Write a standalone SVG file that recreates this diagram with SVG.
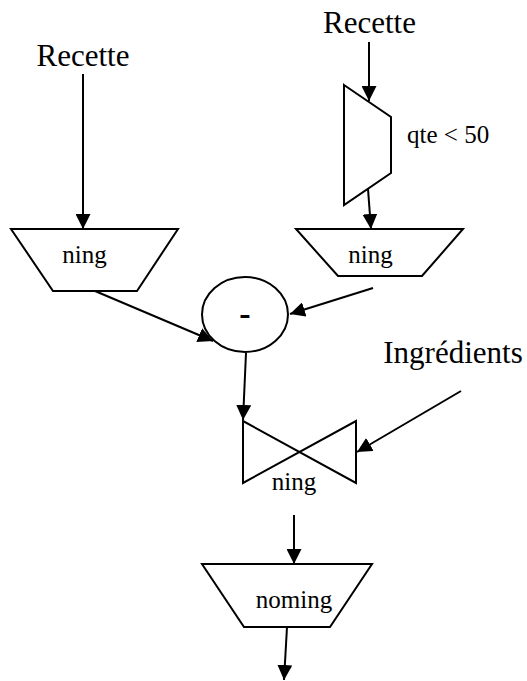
<svg xmlns="http://www.w3.org/2000/svg" width="527" height="681" viewBox="0 0 527 681">
  <style>
    .shape { fill: #fff; stroke: #000; stroke-width: 2; stroke-linejoin: miter; }
    .edge { fill: none; stroke: #000; stroke-width: 2; marker-end: url(#arrow); }
    .label { font-family: "Liberation Serif", "Times New Roman", serif; fill: #000; }
    .big { font-size: 31px; }
    .small { font-size: 25px; }
  </style>
  <defs>
    <marker id="arrow" markerUnits="userSpaceOnUse" markerWidth="15" markerHeight="15" refX="15" refY="7.5" orient="auto">
      <path d="M0,0 L15,7.5 L0,15 z" fill="#000"/>
    </marker>
  </defs>
  <rect width="527" height="681" fill="#fff"/>

  <!-- source labels -->
  <g id="recette-left">
    <text class="label big" x="83" y="66" text-anchor="middle">Recette</text>
  </g>
  <g id="recette-right">
    <text class="label big" x="369.5" y="33" text-anchor="middle">Recette</text>
  </g>
  <g id="ingredients">
    <text class="label big" x="453" y="363" text-anchor="middle">Ingrédients</text>
  </g>

  <!-- selection (qte < 50) -->
  <g id="selection">
    <polygon class="shape" points="344,85 391,117 391,173 344,205"/>
    <text class="label small" x="407" y="143">qte &lt; 50</text>
  </g>

  <!-- projections -->
  <g id="projection-left">
    <polygon class="shape" points="11,229 178,229 137,291 53,291"/>
    <text class="label small" x="84.5" y="263" text-anchor="middle">ning</text>
  </g>
  <g id="projection-right">
    <polygon class="shape" points="296,229 463,229 422,276 338,276"/>
    <text class="label small" x="370.5" y="263" text-anchor="middle">ning</text>
  </g>

  <!-- difference -->
  <g id="difference">
    <ellipse class="shape" cx="245" cy="314.5" rx="43" ry="37.5"/>
    <text class="label" x="245" y="325" font-size="34" font-weight="bold" text-anchor="middle">-</text>
  </g>

  <!-- join on ning -->
  <g id="join">
    <polygon class="shape" points="243,421 356,483 356,421 243,483"/>
    <text class="label small" x="294" y="490" text-anchor="middle">ning</text>
  </g>

  <!-- final projection -->
  <g id="projection-final">
    <polygon class="shape" points="202,564 372,564 330,627 244,627"/>
    <text class="label small" x="294" y="608" text-anchor="middle">noming</text>
  </g>

  <!-- connectors -->
  <g id="edges">
    <line class="edge" x1="83" y1="74" x2="83" y2="229"/>
    <line class="edge" x1="369" y1="42" x2="369" y2="101"/>
    <line class="edge" x1="368" y1="189" x2="371" y2="229"/>
    <line class="edge" x1="95" y1="291" x2="213" y2="341"/>
    <line class="edge" x1="373" y1="288" x2="290" y2="314"/>
    <line class="edge" x1="246" y1="353" x2="243" y2="420"/>
    <line class="edge" x1="461" y1="391" x2="357" y2="452"/>
    <line class="edge" x1="294" y1="515" x2="294" y2="564"/>
    <line class="edge" x1="287" y1="627" x2="284" y2="680"/>
  </g>
</svg>
